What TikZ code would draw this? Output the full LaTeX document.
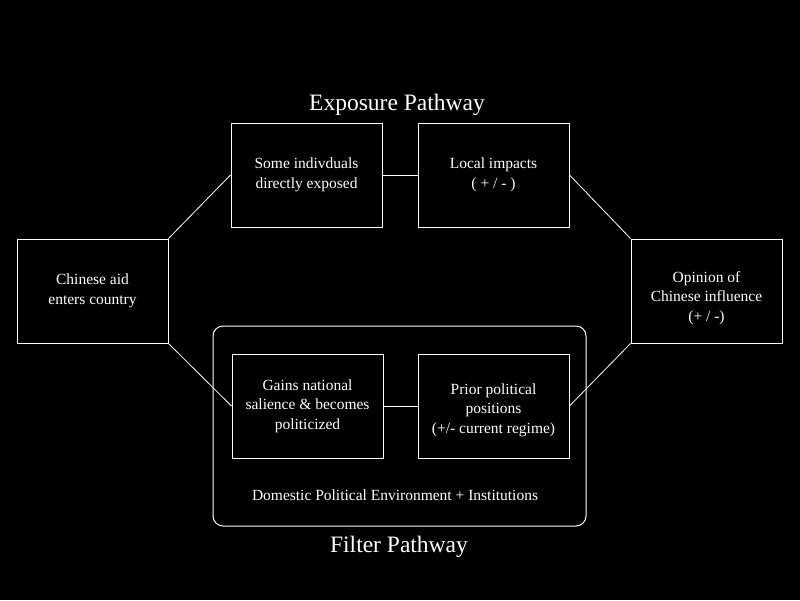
\documentclass[tikz,border=0pt]{standalone}
\usepackage{fontspec}
\setmainfont{Liberation Serif}
\begin{document}
\begin{tikzpicture}[x=1pt,y=-1pt,
  box/.style={draw=white,line width=1pt,minimum width=151pt,minimum height=104pt,inner sep=0pt,align=center,text=white,font=\fontsize{15.5}{19.5}\selectfont},
  boxtext/.style={inner sep=0pt,align=center,text=white,font=\fontsize{15.5}{19.5}\selectfont},
  link/.style={draw=white,line width=0.8pt},
  title/.style={text=white,font=\fontsize{23.5}{28}\selectfont,inner sep=0pt}]
\fill[black] (0,0) rectangle (800,600);
\useasboundingbox (0,0) rectangle (800,600);
\draw[white,line width=1pt,rounded corners=10pt] (213,326) rectangle (586,526);
\node[box] (aid) at (92.5,291) {Chinese aid\\enters country};
\node[box] (exp) at (306.5,175) {Some indivduals\\directly exposed};
\node[box] (loc) at (493.5,175) {Local impacts\\( + / - )};
\node[box] (op) at (706.5,291) {};
\node[boxtext] (optext) at (706.5,298) {Opinion of\\Chinese influence\\(+ / -)};
\node[box] (gain) at (307.5,406) {Gains national\\salience \& becomes\\politicized};
\node[box] (prior) at (493.5,406) {};
\node[boxtext] (priortext) at (493.5,410) {Prior political\\positions\\(+/- current regime)};
\node[text=white,font=\fontsize{15.5}{18}\selectfont,inner sep=0pt] (env) at (395,495) {Domestic Political Environment + Institutions};
\node[title] (t1) at (397,105) {Exposure Pathway};
\node[title] (t2) at (399,547) {Filter Pathway};
\draw[link] (aid.north east) -- (exp.west);
\draw[link] (aid.south east) -- (gain.west);
\draw[link] (exp.east) -- (loc.west);
\draw[link] (gain.east) -- (prior.west);
\draw[link] (loc.east) -- (op.north west);
\draw[link] (prior.east) -- (op.south west);
\end{tikzpicture}
\end{document}
